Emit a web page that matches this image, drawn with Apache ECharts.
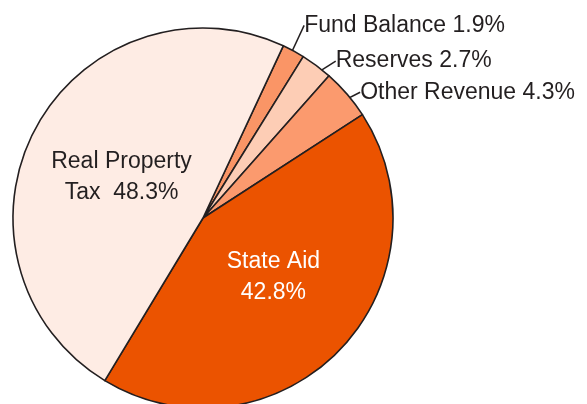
<!DOCTYPE html>
<html>
<head>
<meta charset="utf-8">
<script src="https://cdn.jsdelivr.net/npm/echarts@6/dist/echarts.min.js"></script>
<style>
  * {
    margin: 0;
    padding: 0;
  }
  body { background: #fff; }
  #chart { width: 587px; height: 404px; }
</style>
</head>
<body>
<div id="chart"></div>
<script>
  // revenue sources, clockwise from the top of the pie
  const categories = ['Fund Balance', 'Reserves', 'Other Revenue', 'State Aid', 'Real Property Tax']
  const shares = [1.9, 2.7, 4.3, 42.8, 48.3]
  // which slices carry their label inside
  const insideLabels = ['State Aid', 'Real Property Tax']

  const sliceColors = ['#fa9566', '#fdcdb5', '#fb9a6e', '#eb5300', '#feece4']
  const ink = '#231f20'
  // small nudges for the labels [dx, dy]
  const labelNudge = [[5, -15], [12, 5], [4, 6], [0, -9], [5, 5]]

  const chart = echarts.init(document.getElementById('chart'))

  const labelFont = {
    fontFamily: 'Liberation Sans',
    fontSize: 23,
    color: ink
  }

  function labelText (p) {
    if (p.name === 'Real Property Tax') return 'Real Property\nTax  ' + p.value.toFixed(1) + '%'
    if (p.name === 'State Aid') return 'State Aid\n' + p.value.toFixed(1) + '%'
    return p.name + ' ' + p.value.toFixed(1) + '%'
  }

  // filled pie, big slices labelled inside
  const fillData = categories.map((name, i) => {
    const inside = insideLabels.includes(name)
    return {
      name: name,
      value: shares[i],
      itemStyle: { color: sliceColors[i] },
      label: inside ? {
        show: true,
        color: name === 'State Aid' ? '#ffffff' : ink,
        lineHeight: 31
      } : { show: false }
    }
  })

  // same slices again, see-through and a bit smaller, so the leader lines
  // start inside the slice and cross its edge on the way to the label
  const leaderData = categories.map((name, i) => {
    const inside = insideLabels.includes(name)
    return {
      name: name,
      value: shares[i],
      label: { show: !inside },
      labelLine: { show: !inside }
    }
  })

  const pieBase = {
    type: 'pie',
    center: [203, 218],
    startAngle: 65,
    clockwise: true,
    avoidLabelOverlap: false,
    silent: true
  }

  chart.setOption({
    animation: false,
    series: [
      Object.assign({}, pieBase, {
        radius: 190,
        itemStyle: {
          borderColor: ink,
          borderWidth: 1.6
        },
        label: Object.assign({ position: 'inside', formatter: labelText }, labelFont),
        labelLayout: function (params) {
          const nudge = labelNudge[params.dataIndex]
          return {
            x: params.labelRect.x + params.labelRect.width / 2 + nudge[0],
            y: params.labelRect.y + params.labelRect.height / 2 + nudge[1],
            align: 'center',
            verticalAlign: 'middle'
          }
        },
        data: fillData
      }),
      Object.assign({}, pieBase, {
        radius: 172,
        itemStyle: {
          color: 'rgba(0,0,0,0)',
          borderWidth: 0
        },
        label: Object.assign({ position: 'outside', formatter: labelText }, labelFont),
        labelLine: {
          length: 30,
          length2: 0,
          lineStyle: { color: ink, width: 1.5 }
        },
        labelLayout: function (params) {
          const nudge = labelNudge[params.dataIndex]
          const pts = params.labelLinePoints
          if (!pts) return
          const end = pts[1]
          return {
            x: end[0] + nudge[0],
            y: end[1] + nudge[1],
            align: 'left',
            verticalAlign: 'middle'
          }
        },
        data: leaderData
      })
    ]
  })
</script>
</body>
</html>
